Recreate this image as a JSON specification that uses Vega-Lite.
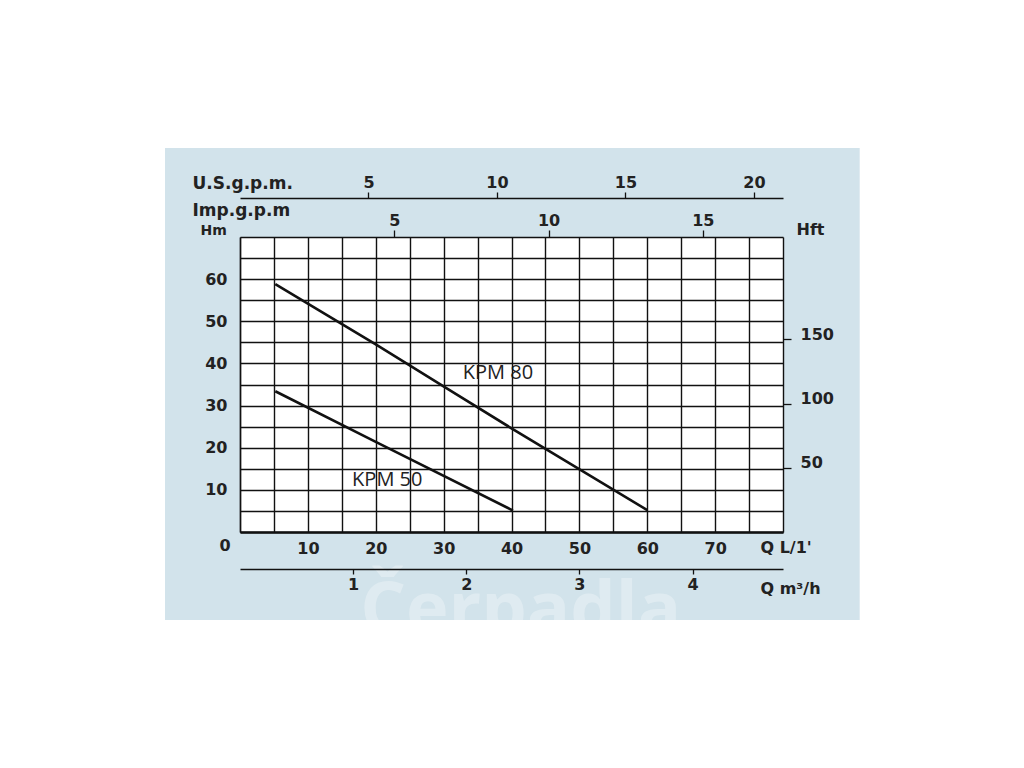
{
  "$schema": "https://vega.github.io/schema/vega-lite/v6.json",
  "width": 543,
  "height": 295,
  "autosize": {"type": "none"},
  "padding": {"left": 240, "top": 237, "right": 241, "bottom": 236},
  "background": "white",
  "config": {
    "view": {"stroke": null},
    "axis": {
      "labelFont": "DejaVu Sans", "labelFontWeight": "bold", "labelColor": "#222", "labelFontSize": 16,
      "titleFont": "DejaVu Sans", "titleFontWeight": "bold", "titleColor": "#222", "titleFontSize": 16,
      "labelOverlap": false, "labelFlush": false, "labelBound": false
    }
  },
  "datasets": {
    "panel": [{"x1": -11.05, "x2": 91.3, "y1": -20.9, "y2": 91.1}],
    "plot": [{"x1": 0, "x2": 80, "y1": 0, "y2": 70}],
    "mark": [{"q": 17.7, "h": -24, "t": "Čerpadla"}],
    "curves": [
      {"pump": "KPM 80", "q": 5.2, "h": 58.8},
      {"pump": "KPM 80", "q": 20, "h": 44.5},
      {"pump": "KPM 80", "q": 40, "h": 24.6},
      {"pump": "KPM 80", "q": 60, "h": 5.2},
      {"pump": "KPM 50", "q": 5.2, "h": 33.4},
      {"pump": "KPM 50", "q": 20, "h": 21.4},
      {"pump": "KPM 50", "q": 40.2, "h": 5.1}
    ],
    "labels": [
      {"q": 38.0, "h": 37.7, "t": "KPM 80"},
      {"q": 21.7, "h": 12.3, "t": "KPM 50"}
    ],
    "zero": [{"q": -2.2, "h": -3.3, "t": "0"}]
  },
  "layer": [
    {
      "data": {"name": "panel"},
      "mark": {"type": "rect", "fill": "#d2e3eb", "clip": false},
      "encoding": {
        "x": {"field": "x1", "type": "quantitative", "scale": {"domain": [0, 80], "nice": false, "zero": false},
          "axis": {"orient": "top", "offset": 39, "zindex": 2, "domain": true, "domainColor": "#111", "domainWidth": 1.4,
            "ticks": true, "tickColor": "#111", "tickSize": 6, "tickWidth": 1.3, "labelPadding": 2, "grid": false,
            "values": [18.927, 37.854, 56.781, 75.708], "labelExpr": "round(datum.value/3.7854)",
            "title": "U.S.g.p.m.", "titleX": -48, "titleY": -15, "titleAlign": "left", "titleBaseline": "middle", "titleFontSize": 17}},
        "x2": {"field": "x2"},
        "y": {"field": "y1", "type": "quantitative", "scale": {"domain": [0, 70], "nice": false, "zero": false}, "axis": null},
        "y2": {"field": "y2"}
      }
    },
    {
      "data": {"name": "plot"},
      "mark": {"type": "rect", "fill": "white"},
      "encoding": {
        "x": {"field": "x1", "type": "quantitative", "scale": {"domain": [0, 80], "nice": false, "zero": false},
          "axis": {"orient": "top", "offset": 0, "zindex": 2, "domain": false, "grid": false,
            "ticks": true, "tickColor": "#111", "tickSize": 7, "tickWidth": 1.3, "labelPadding": 2,
            "values": [22.73, 45.46, 68.19], "labelExpr": "round(datum.value/4.546)",
            "title": "Imp.g.p.m", "titleX": -48, "titleY": -27, "titleAlign": "left", "titleBaseline": "middle", "titleFontSize": 17}},
        "x2": {"field": "x2"},
        "y": {"field": "y1", "type": "quantitative", "scale": {"domain": [0, 70], "nice": false, "zero": false},
          "axis": {"orient": "right", "offset": 0, "zindex": 2, "domain": false, "grid": false,
            "ticks": true, "tickColor": "#111", "tickSize": 8, "tickWidth": 1.3, "labelPadding": 9,
            "labelBaseline": "alphabetic", "labelAlign": "left",
            "values": [15.24, 30.48, 45.72], "labelExpr": "round(datum.value*3.28084)",
            "title": "Hft", "titleX": 27, "titleY": -8, "titleAngle": 0, "titleAlign": "center", "titleBaseline": "middle"}},
        "y2": {"field": "y2"}
      }
    },
    {
      "data": {"name": "mark"},
      "mark": {"type": "text", "font": "Open Sans", "fontSize": 72, "fontWeight": "bold", "color": "white", "opacity": 0.3, "align": "left", "baseline": "alphabetic"},
      "encoding": {
        "x": {"field": "q", "type": "quantitative", "scale": {"domain": [0, 80], "nice": false, "zero": false},
          "axis": {"orient": "bottom", "offset": 37, "zindex": 2, "domain": true, "domainColor": "#111", "domainWidth": 1.4, "grid": false,
            "ticks": true, "tickColor": "#111", "tickSize": 5, "tickWidth": 1.3, "labelPadding": 2,
            "values": [16.6667, 33.3333, 50, 66.6667], "labelExpr": "round(datum.value/16.6667)",
            "title": "Q m³/h", "titleX": 520, "titleY": 19, "titleAlign": "left", "titleBaseline": "middle"}},
        "y": {"field": "h", "type": "quantitative", "scale": {"domain": [0, 70], "nice": false, "zero": false}, "axis": null},
        "text": {"field": "t"}
      }
    },
    {
      "data": {"name": "curves"},
      "mark": {"type": "line", "color": "#111", "strokeWidth": 2.6, "interpolate": "monotone"},
      "encoding": {
        "x": {"field": "q", "type": "quantitative", "scale": {"domain": [0, 80], "nice": false, "zero": false},
          "axis": {"orient": "bottom", "offset": 0, "zindex": 2, "domain": true, "domainColor": "#111", "domainWidth": 2.5,
            "grid": true, "gridColor": "#111", "gridWidth": 1.4, "gridOpacity": 1, "ticks": false, "labelPadding": 8,
            "values": [0, 5, 10, 15, 20, 25, 30, 35, 40, 45, 50, 55, 60, 65, 70, 75, 80],
            "labelExpr": "datum.value % 10 == 0 && datum.value > 0 && datum.value < 80 ? datum.label : ''",
            "title": "Q L/1'", "titleX": 520, "titleY": 15, "titleAlign": "left", "titleBaseline": "middle"}},
        "y": {"field": "h", "type": "quantitative", "scale": {"domain": [0, 70], "nice": false, "zero": false},
          "axis": {"orient": "left", "offset": 0, "zindex": 2, "domain": true, "domainColor": "#111", "domainWidth": 1.4,
            "grid": true, "gridColor": "#111", "gridWidth": 1.4, "gridOpacity": 1, "ticks": false, "labelPadding": 13,
            "values": [0, 5, 10, 15, 20, 25, 30, 35, 40, 45, 50, 55, 60, 65, 70],
            "labelExpr": "datum.value % 10 == 0 && datum.value > 0 && datum.value < 70 ? datum.label : ''",
            "title": "Hm", "titleX": -40, "titleY": -7, "titleAngle": 0, "titleAlign": "left", "titleBaseline": "middle", "titleFontSize": 14}},
        "detail": {"field": "pump"}
      }
    },
    {
      "data": {"name": "labels"},
      "mark": {"type": "text", "font": "Open Sans", "fontSize": 20, "color": "#222", "align": "center", "baseline": "middle"},
      "encoding": {
        "x": {"field": "q", "type": "quantitative", "scale": {"domain": [0, 80], "nice": false, "zero": false}, "axis": null},
        "y": {"field": "h", "type": "quantitative", "scale": {"domain": [0, 70], "nice": false, "zero": false}, "axis": null},
        "text": {"field": "t"}
      }
    },
    {
      "data": {"name": "zero"},
      "mark": {"type": "text", "font": "DejaVu Sans", "fontWeight": "bold", "fontSize": 16, "color": "#222", "align": "center", "baseline": "middle"},
      "encoding": {
        "x": {"field": "q", "type": "quantitative", "scale": {"domain": [0, 80], "nice": false, "zero": false}, "axis": null},
        "y": {"field": "h", "type": "quantitative", "scale": {"domain": [0, 70], "nice": false, "zero": false}, "axis": null},
        "text": {"field": "t"}
      }
    }
  ],
  "resolve": {"axis": {"x": "independent", "y": "independent"}}
}
